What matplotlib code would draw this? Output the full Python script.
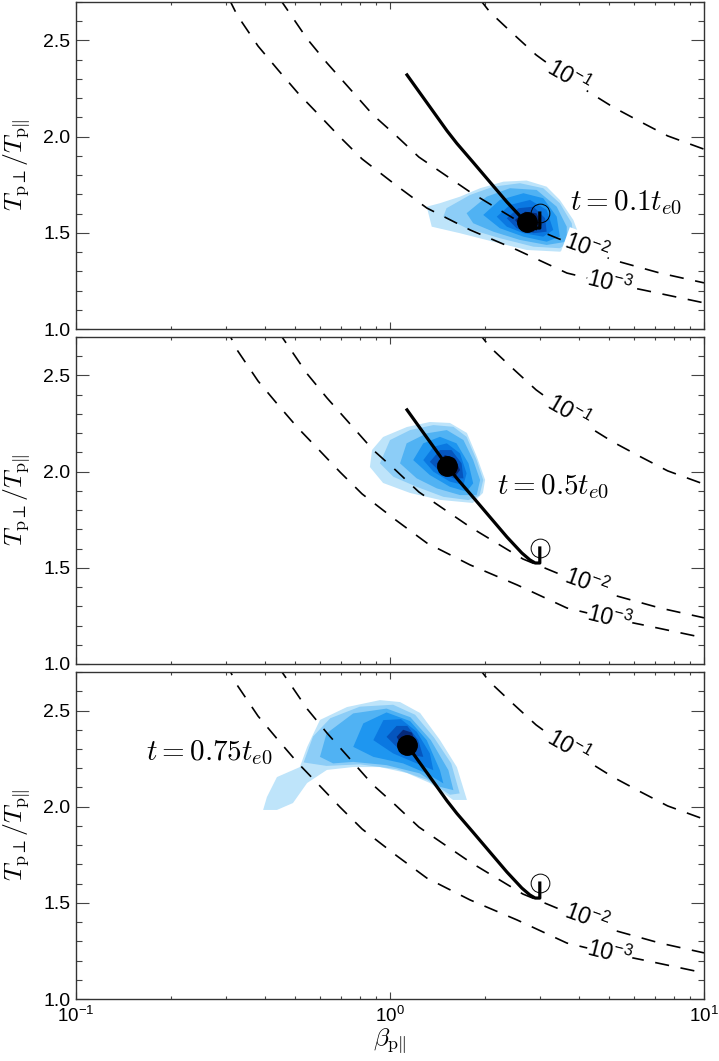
import numpy as np
import matplotlib
matplotlib.use('Agg')
import matplotlib.pyplot as plt
from matplotlib.ticker import FixedLocator, MultipleLocator, LogLocator, NullFormatter, FormatStrFormatter

plt.rcParams['font.family'] = ['Liberation Sans', 'DejaVu Sans']
plt.rcParams['mathtext.fontset'] = 'custom'
plt.rcParams['mathtext.rm'] = 'Liberation Sans'
plt.rcParams['mathtext.it'] = 'Liberation Sans:italic'
plt.rcParams['mathtext.bf'] = 'Liberation Sans:bold'

# ---------------- threshold curves (growth rate 1e-3, 1e-2, 1e-1) ----------------
beta_g3 = [0.30, 0.326, 0.380, 0.440, 0.509, 0.594, 0.693, 0.815, 1.05, 1.31, 1.80, 2.54, 3.66, 4.84, 6.4, 10.0]
anis_g3 = [2.75, 2.632, 2.471, 2.347, 2.227, 2.113, 1.998, 1.884, 1.745, 1.629, 1.515, 1.411, 1.291, 1.243, 1.203, 1.136]

beta_g2 = [0.44, 0.481, 0.545, 0.630, 0.746, 0.883, 1.04, 1.236, 1.80, 2.65, 3.40, 5.13, 7.24, 10.0]
anis_g2 = [2.73, 2.638, 2.508, 2.383, 2.248, 2.113, 2.009, 1.894, 1.712, 1.546, 1.473, 1.359, 1.291, 1.240]

beta_g1 = [1.90, 2.08, 2.45, 2.92, 3.9, 5.13, 6.3, 7.66, 10.0]
anis_g1 = [2.73, 2.648, 2.539, 2.425, 2.275, 2.154, 2.076, 2.004, 1.935]

curve_labels = [r'$\mathit{10^{-1}}$', r'$\mathit{10^{-2}}$', r'$\mathit{10^{-3}}$']
label_beta = [3.69, 4.24, 5.01]
label_anis = [2.31, 1.425, 1.239]
label_rot = [-30, -20, -14]

# ---------------- mean trajectory ----------------
traj_beta = [3.0, 3.0, 2.90, 2.79, 2.63, 2.358, 2.081, 1.837, 1.633, 1.52, 1.133]
traj_anis = [1.603, 1.525, 1.525, 1.541, 1.577, 1.660, 1.764, 1.868, 1.965, 2.030, 2.321]
start_beta, start_anis = 3.0, 1.603

times = [r'$t = 0.1t_{e0}$', r'$t = 0.5t_{e0}$', r'$t = 0.75t_{e0}$']
now_beta = [2.73, 1.52, 1.135]
now_anis = [1.557, 2.03, 2.32]
time_lab_beta = [3.74, 2.19, 0.167]
time_lab_anis = [1.655, 1.92, 2.279]

# ---------------- distribution contours (log10 beta, anisotropy), outer -> inner ----------------
blob1_logb = [
    [0.117, 0.133, 0.223, 0.329, 0.435, 0.541, 0.584, 0.600, 0.584, 0.541, 0.499, 0.435, 0.361, 0.287, 0.223, 0.159],
    [0.180, 0.255, 0.329, 0.414, 0.488, 0.541, 0.579, 0.584, 0.541, 0.457, 0.350, 0.244, 0.170],
    [0.244, 0.308, 0.382, 0.467, 0.531, 0.563, 0.563, 0.499, 0.414, 0.329, 0.265],
    [0.297, 0.350, 0.425, 0.488, 0.531, 0.541, 0.499, 0.425, 0.350],
    [0.340, 0.382, 0.446, 0.499, 0.520, 0.488, 0.425, 0.372],
    [0.372, 0.409, 0.457, 0.494, 0.499, 0.457, 0.403],
    [0.398, 0.430, 0.467, 0.483, 0.457, 0.419],
]
blob1_anis = [
    [1.636, 1.532, 1.498, 1.454, 1.411, 1.402, 1.428, 1.498, 1.567, 1.671, 1.740, 1.772, 1.766, 1.732, 1.688, 1.654],
    [1.628, 1.697, 1.740, 1.758, 1.732, 1.654, 1.550, 1.463, 1.420, 1.428, 1.472, 1.524, 1.584],
    [1.602, 1.688, 1.732, 1.723, 1.636, 1.532, 1.454, 1.437, 1.463, 1.506, 1.550],
    [1.593, 1.671, 1.706, 1.680, 1.584, 1.480, 1.454, 1.480, 1.524],
    [1.584, 1.645, 1.671, 1.619, 1.515, 1.480, 1.498, 1.532],
    [1.576, 1.628, 1.636, 1.576, 1.506, 1.498, 1.524],
    [1.567, 1.610, 1.602, 1.541, 1.506, 1.524],
]

blob2_logb = [
    [-0.064, -0.022, 0.064, 0.159, 0.264, 0.296, 0.303, 0.277, 0.245, 0.191, 0.127, 0.054, -0.022, -0.057],
    [-0.032, 0.000, 0.064, 0.138, 0.202, 0.244, 0.276, 0.297, 0.285, 0.250, 0.170, 0.085, 0.011],
    [0.032, 0.053, 0.117, 0.181, 0.234, 0.265, 0.287, 0.276, 0.223, 0.149, 0.085],
    [0.074, 0.106, 0.159, 0.212, 0.250, 0.265, 0.244, 0.191, 0.127],
    [0.106, 0.138, 0.181, 0.223, 0.244, 0.234, 0.191, 0.138],
    [0.127, 0.159, 0.196, 0.228, 0.234, 0.202, 0.154],
    [0.149, 0.175, 0.207, 0.223, 0.207, 0.170],
]
blob2_anis = [
    [2.024, 1.941, 1.889, 1.853, 1.837, 1.889, 1.957, 2.076, 2.201, 2.253, 2.258, 2.232, 2.180, 2.113],
    [2.043, 2.164, 2.216, 2.242, 2.233, 2.181, 2.060, 1.956, 1.875, 1.852, 1.869, 1.921, 1.973],
    [2.043, 2.147, 2.199, 2.216, 2.164, 2.060, 1.956, 1.878, 1.878, 1.913, 1.965],
    [2.060, 2.147, 2.181, 2.147, 2.043, 1.939, 1.896, 1.921, 1.982],
    [2.060, 2.129, 2.147, 2.095, 1.991, 1.930, 1.948, 2.000],
    [2.051, 2.112, 2.112, 2.043, 1.965, 1.965, 2.008],
    [2.043, 2.086, 2.069, 2.008, 1.974, 2.000],
]

blob3_logb = [
    [-0.404, -0.392, -0.360, -0.287, -0.264, -0.223, -0.137, -0.032, 0.032, 0.096, 0.159, 0.213, 0.245, 0.201, 0.127, 0.054, -0.032, -0.118, -0.201, -0.264, -0.309, -0.360],
    [-0.275, -0.245, -0.190, -0.096, 0.010, 0.080, 0.140, 0.195, 0.222, 0.191, 0.117, 0.021, -0.096, -0.202],
    [-0.223, -0.202, -0.117, -0.011, 0.065, 0.130, 0.186, 0.202, 0.159, 0.095, -0.011, -0.117, -0.181],
    [-0.117, -0.085, -0.011, 0.064, 0.117, 0.159, 0.170, 0.117, 0.042, -0.053],
    [-0.053, -0.021, 0.035, 0.085, 0.127, 0.138, 0.085, 0.010],
    [-0.011, 0.021, 0.055, 0.090, 0.106, 0.064, 0.021],
    [0.021, 0.042, 0.070, 0.085, 0.064, 0.037],
]
blob3_anis = [
    [1.983, 2.050, 2.154, 2.206, 2.310, 2.451, 2.518, 2.554, 2.544, 2.487, 2.347, 2.206, 2.035, 2.035, 2.123, 2.175, 2.206, 2.206, 2.191, 2.123, 2.019, 1.983],
    [2.230, 2.365, 2.460, 2.520, 2.530, 2.478, 2.360, 2.225, 2.069, 2.062, 2.140, 2.195, 2.220, 2.212],
    [2.259, 2.381, 2.485, 2.510, 2.465, 2.346, 2.190, 2.086, 2.103, 2.173, 2.216, 2.233, 2.225],
    [2.311, 2.433, 2.490, 2.445, 2.346, 2.190, 2.121, 2.173, 2.225, 2.259],
    [2.346, 2.450, 2.455, 2.390, 2.277, 2.190, 2.225, 2.277],
    [2.363, 2.420, 2.420, 2.346, 2.259, 2.268, 2.311],
    [2.363, 2.400, 2.385, 2.311, 2.285, 2.320],
]

level_colors = ['#bee4fa', '#8ccdf7', '#50b2f3', '#1e96f0', '#0a78e1', '#0555be', '#05297a']

blobs_logb = [blob1_logb, blob2_logb, blob3_logb]
blobs_anis = [blob1_anis, blob2_anis, blob3_anis]

# ---------------- figure ----------------
fig = plt.figure(figsize=(7.19, 10.61), dpi=100)
rects = [[0.1057, 0.6899, 0.8734, 0.3082],
         [0.1057, 0.3742, 0.8734, 0.3082],
         [0.1057, 0.0584, 0.8734, 0.3082]]

for i, rect in enumerate(rects):
    ax = fig.add_axes(rect)
    ax.set_xscale('log')
    ax.set_xlim(0.1, 10)
    ax.set_ylim(1.0, 2.7)

    for lb, an, col in zip(blobs_logb[i], blobs_anis[i], level_colors):
        ax.fill(10 ** np.array(lb), an, color=col, lw=0, zorder=1)

    for bx, by in [(beta_g1, anis_g1), (beta_g2, anis_g2), (beta_g3, anis_g3)]:
        ax.plot(bx, by, color='black', lw=1.2, dashes=(8.5, 7), zorder=2)
    for txt, bx, by, rot in zip(curve_labels, label_beta, label_anis, label_rot):
        ax.text(bx, by, txt, fontsize=16.5, rotation=rot, ha='center', va='center',
                rotation_mode='anchor', zorder=3,
                bbox=dict(facecolor='white', edgecolor='none', pad=0.3))

    ax.plot(traj_beta, traj_anis, color='black', lw=2.3, zorder=4, solid_joinstyle='round')
    ax.plot([start_beta], [start_anis], marker='o', ms=13.5, mfc='none', mec='black', mew=0.7, zorder=5)
    ax.plot([now_beta[i]], [now_anis[i]], marker='o', ms=14, color='black', zorder=6)

    ax.text(time_lab_beta[i], time_lab_anis[i], times[i], fontsize=21, math_fontfamily='cm',
            ha='left', va='center', zorder=7)

    # axes styling
    for sp in ax.spines.values():
        sp.set_color('#333333')
        sp.set_linewidth(1.0)
    ax.yaxis.set_major_locator(MultipleLocator(0.5))
    ax.yaxis.set_minor_locator(MultipleLocator(0.1))
    ax.yaxis.set_major_formatter(FormatStrFormatter('%.1f'))
    ax.xaxis.set_major_locator(FixedLocator([0.1, 1, 10]))
    ax.xaxis.set_minor_locator(LogLocator(base=10, subs=np.arange(2, 10)))
    ax.xaxis.set_minor_formatter(NullFormatter())
    ax.tick_params(which='both', direction='in', top=True, right=True, color='#444444', width=0.8)
    ax.tick_params(axis='y', which='major', length=9.1, labelsize=14, pad=4)
    ax.tick_params(axis='y', which='minor', length=4.5)
    ax.tick_params(axis='x', which='major', length=4.8, labelsize=13.5, pad=5)
    ax.tick_params(axis='x', which='minor', length=2.4)
    ax.set_ylabel(r'$T_{\rm p\perp}/T_{\rm p\Vert}$', fontsize=18.5, math_fontfamily='cm')
    ax.yaxis.set_label_coords(-0.068, 0.5)
    if i < 2:
        ax.tick_params(axis='x', labelbottom=False)
    else:
        ax.set_xticklabels([r'$10^{-1}$', r'$10^{0}$', r'$10^{1}$'])
        ax.set_xlabel(r'$\beta_{\rm p\Vert}$', fontsize=18.5, math_fontfamily='cm')
        ax.xaxis.set_label_coords(0.5, -0.085)

fig.savefig('out.png', dpi=100)
